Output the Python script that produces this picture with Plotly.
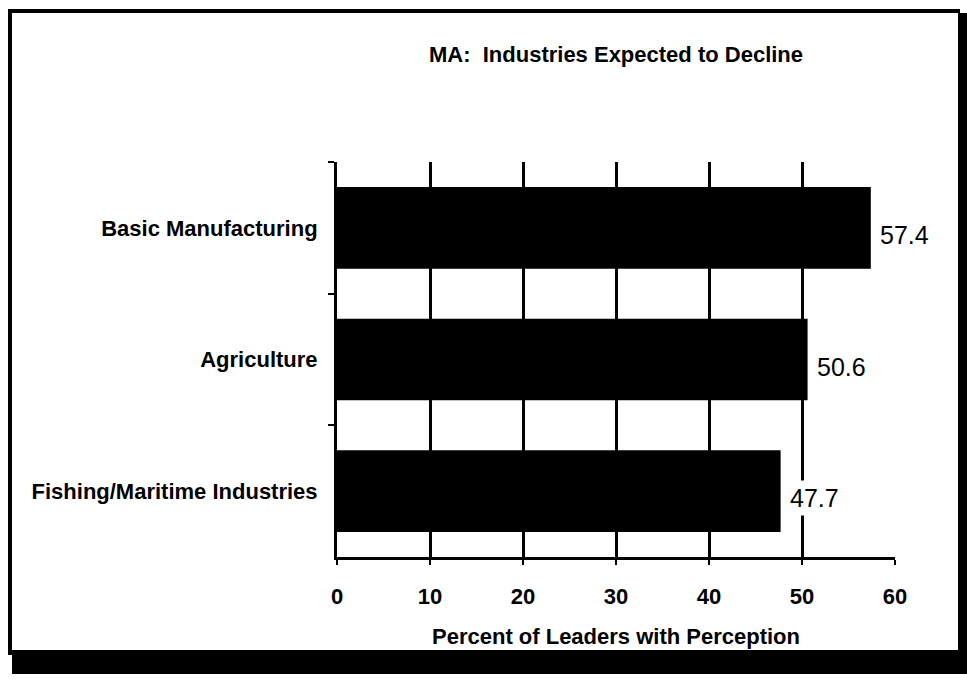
import plotly.graph_objects as go

categories = ["Basic Manufacturing", "Agriculture", "Fishing/Maritime Industries"]
values = [57.4, 50.6, 47.7]
value_labels = ["57.4", "50.6", "47.7"]
x_ticks = [0, 10, 20, 30, 40, 50, 60]
title_text = "MA:\u00a0\u00a0Industries Expected to Decline"
x_title = "Percent of Leaders with Perception"

W, H = 967, 679
L, R, T, B = 337, 895, 162, 557

def px(x):
    return (x - L) / (R - L)

def py(y):
    return (B - y) / (B - T)

FONT = "Liberation Sans"

fig = go.Figure()
fig.add_trace(go.Bar(
    y=categories, x=values, orientation="h",
    marker=dict(color="black", line=dict(width=0)),
    width=0.62, hoverinfo="skip",
))

annotations = []
for cat, val, lab in zip(categories, values, value_labels):
    annotations.append(dict(
        x=val, y=cat, xref="x", yref="y", text=lab, showarrow=False,
        xanchor="left", yanchor="middle", xshift=5, yshift=-7,
        bgcolor="white", borderpad=3,
        font=dict(family=FONT, size=25, color="black"),
    ))

shapes = []
# thin frame (top and left)
shapes.append(dict(type="rect", xref="paper", yref="paper",
                   x0=px(8), x1=px(960), y0=py(13), y1=py(9),
                   fillcolor="black", line=dict(width=0), layer="above"))
shapes.append(dict(type="rect", xref="paper", yref="paper",
                   x0=px(8), x1=px(12), y0=py(655), y1=py(9),
                   fillcolor="black", line=dict(width=0), layer="above"))
# shadow bands (right and bottom)
shapes.append(dict(type="rect", xref="paper", yref="paper",
                   x0=px(958), x1=px(967), y0=py(674), y1=py(13),
                   fillcolor="black", line=dict(width=0), layer="above"))
shapes.append(dict(type="rect", xref="paper", yref="paper",
                   x0=px(12), x1=px(967), y0=py(674), y1=py(650),
                   fillcolor="black", line=dict(width=0), layer="above"))

fig.update_layout(
    width=W, height=H,
    margin=dict(l=L, r=W - R, t=T, b=H - B, pad=0),
    paper_bgcolor="white", plot_bgcolor="white",
    showlegend=False,
    bargap=0.38,
    title=dict(text=title_text, x=0.5, xref="paper", xanchor="center",
               y=1 - 54 / H, yref="container", yanchor="middle",
               font=dict(family=FONT, size=22, color="black", weight="bold")),
    xaxis=dict(range=[0, 60], tickvals=x_ticks, ticktext=[str(v) for v in x_ticks],
               showgrid=True, gridcolor="black", gridwidth=3,
               zeroline=False, showline=True, linecolor="black", linewidth=3,
               ticks="outside", ticklen=5, tickwidth=2, tickcolor="black",
               tickfont=dict(family=FONT, size=22, color="black", weight="bold"),
               ticklabelstandoff=13,
               title=dict(text=x_title, standoff=21,
                          font=dict(family=FONT, size=22, color="black", weight="bold"))),
    yaxis=dict(categoryorder="array", categoryarray=categories, autorange="reversed",
               showgrid=False, zeroline=False, showline=True, linecolor="black", linewidth=3,
               ticks="outside", tickson="boundaries", ticklen=6, tickwidth=2, tickcolor="black",
               tickfont=dict(family=FONT, size=22, color="black", weight="bold"),
               ticklabelstandoff=12),
    annotations=annotations,
    shapes=shapes,
)

fig.write_html("out.html", config={"displayModeBar": False},
               post_script="document.body.style.margin='0';document.body.style.overflow='hidden';")
